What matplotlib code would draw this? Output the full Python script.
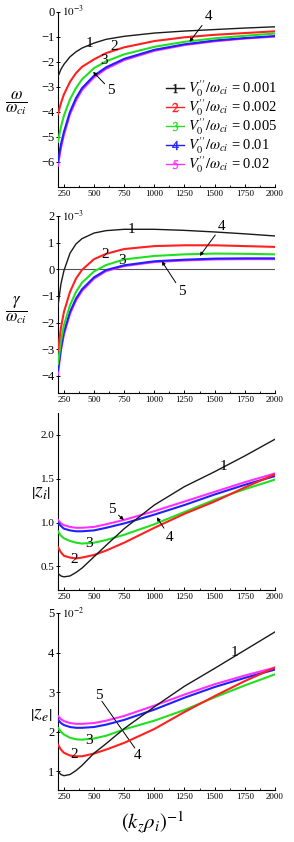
import matplotlib
matplotlib.use("Agg")
import matplotlib.pyplot as plt
from matplotlib.lines import Line2D

plt.rcParams.update({
    "font.family": "Liberation Serif",
    "mathtext.fontset": "stix",
})

x = [200, 225, 250, 300, 350, 400, 500, 600, 750, 1000, 1250, 1500, 1750, 2000]
colors = ['#1a1a1a', '#ff2020', '#20e020', '#2020ff', '#ff30ff']
ratios = ['0.001', '0.002', '0.005', '0.01', '0.02']

# panel (a): omega / omega_ci, x1e-3
omega = [
    [-2.6, -2.3, -2.1, -1.8, -1.6, -1.45, -1.25, -1.1, -0.98, -0.85, -0.77, -0.71, -0.65, -0.6],
    [-4.1, -3.65, -3.3, -2.8, -2.45, -2.2, -1.9, -1.65, -1.42, -1.17, -1.02, -0.92, -0.85, -0.78],
    [-5.2, -4.6, -4.15, -3.5, -3.05, -2.7, -2.25, -1.98, -1.7, -1.4, -1.2, -1.06, -0.96, -0.87],
    [-6.0, -5.3, -4.8, -4.0, -3.45, -3.05, -2.55, -2.22, -1.88, -1.52, -1.3, -1.15, -1.05, -0.97],
    [-6.15, -5.45, -4.92, -4.1, -3.55, -3.13, -2.62, -2.28, -1.93, -1.56, -1.33, -1.18, -1.07, -0.99],
]
# panel (b): gamma / omega_ci, x1e-3
gamma = [
    [-1.4, -0.55, -0.05, 0.6, 0.95, 1.15, 1.36, 1.45, 1.5, 1.5, 1.46, 1.4, 1.33, 1.25],
    [-3.05, -2.2, -1.6, -0.85, -0.35, -0.02, 0.38, 0.58, 0.76, 0.87, 0.9, 0.9, 0.87, 0.84],
    [-3.55, -2.7, -2.1, -1.35, -0.85, -0.5, -0.08, 0.16, 0.37, 0.5, 0.56, 0.59, 0.58, 0.56],
    [-3.8, -2.95, -2.35, -1.6, -1.1, -0.75, -0.3, -0.03, 0.15, 0.3, 0.36, 0.4, 0.41, 0.41],
    [-3.95, -3.05, -2.45, -1.68, -1.17, -0.81, -0.35, -0.07, 0.12, 0.27, 0.33, 0.37, 0.38, 0.38],
]
# panel (c): |z_i|
zi = [
    [0.42, 0.39, 0.38, 0.39, 0.43, 0.48, 0.61, 0.74, 0.93, 1.2, 1.41, 1.58, 1.76, 1.95],
    [0.72, 0.66, 0.62, 0.6, 0.59, 0.6, 0.63, 0.68, 0.77, 0.94, 1.1, 1.24, 1.4, 1.55],
    [0.9, 0.85, 0.82, 0.79, 0.77, 0.76, 0.77, 0.8, 0.86, 0.98, 1.12, 1.26, 1.38, 1.49],
    [1.0, 0.96, 0.93, 0.91, 0.9, 0.9, 0.91, 0.94, 0.99, 1.09, 1.2, 1.32, 1.43, 1.53],
    [1.03, 0.99, 0.97, 0.95, 0.94, 0.94, 0.95, 0.98, 1.03, 1.13, 1.24, 1.35, 1.46, 1.56],
]
# panel (d): |z_e|, x1e-2
ze = [
    [1.0, 0.92, 0.89, 0.92, 1.02, 1.15, 1.46, 1.7, 2.08, 2.63, 3.15, 3.6, 4.06, 4.52],
    [1.68, 1.55, 1.47, 1.4, 1.38, 1.38, 1.45, 1.55, 1.72, 2.07, 2.5, 2.9, 3.28, 3.62],
    [2.1, 2.0, 1.93, 1.85, 1.81, 1.8, 1.83, 1.9, 2.06, 2.28, 2.55, 2.87, 3.17, 3.45],
    [2.31, 2.22, 2.17, 2.12, 2.1, 2.1, 2.12, 2.18, 2.3, 2.56, 2.86, 3.13, 3.36, 3.57],
    [2.4, 2.32, 2.27, 2.22, 2.2, 2.2, 2.22, 2.28, 2.4, 2.66, 2.94, 3.2, 3.42, 3.62],
]

fig = plt.figure(figsize=(2.94, 8.42), dpi=100)
boxes = [
    [0.197, 0.778, 0.738, 0.208],
    [0.197, 0.533, 0.738, 0.2105],
    [0.197, 0.2993, 0.738, 0.2102],
    [0.197, 0.0618, 0.738, 0.2102],
]
axs = [fig.add_axes(b) for b in boxes]
datasets = [omega, gamma, zi, ze]
ylims = [(-7, 0), (-4.65, 2), (0.23, 2.25), (0.53, 5)]
yticks = [range(-6, 1), range(-4, 3), [0.5, 1.0, 1.5, 2.0], [1, 2, 3, 4, 5]]

for ax, data, yl, yt in zip(axs, datasets, ylims, yticks):
    for i, ys in enumerate(data):
        lw = 1.0 if i == 0 else 1.5
        ax.plot(x, ys, color=colors[i], lw=lw, zorder=3 + (4 - i) * 0.1 if i else 4)
    ax.set_xlim(200, 2000)
    ax.set_ylim(*yl)
    ax.set_yticks(list(yt))
    ax.set_xticks([250, 500, 750, 1000, 1250, 1500, 1750, 2000])
    ax.set_xticks([375, 625, 875, 1125, 1375, 1625, 1875], minor=True)
    for s in ['top', 'right']:
        ax.spines[s].set_visible(False)
    ax.spines['left'].set_linewidth(0.8)
    ax.spines['bottom'].set_linewidth(0.8)
    ax.tick_params(axis='x', direction='in', length=2.5, width=0.7, labelsize=6.5, pad=2)
    ax.tick_params(axis='x', which='minor', direction='in', length=1.5, width=0.6)
    ax.tick_params(axis='y', direction='inout', length=3, width=0.7, labelsize=9, pad=1)

axs[2].set_yticklabels(['0.5', '1.0', '1.5', '2.0'], fontsize=8)

# scale factors
axs[0].text(0.02, 1.0, r'$10^{-3}$', transform=axs[0].transAxes, fontsize=8, va='center', ha='left')
axs[1].text(0.02, 1.0, r'$10^{-3}$', transform=axs[1].transAxes, fontsize=8, va='center', ha='left')
axs[3].text(0.02, 1.0, r'$10^{-2}$', transform=axs[3].transAxes, fontsize=8, va='center', ha='left')

# y labels
fig.text(16 / 294, 1 - 103 / 842, r'$\dfrac{\omega}{\omega_{ci}}$', fontsize=12, ha='center', va='center')
fig.text(16 / 294, 1 - 310 / 842, r'$\dfrac{\gamma}{\omega_{ci}}$', fontsize=12, ha='center', va='center')
fig.text(41 / 294, 1 - 493 / 842, r'$\left|z_i\right|$', fontsize=14, ha='center', va='center')
fig.text(41 / 294, 1 - 714 / 842, r'$\left|z_e\right|$', fontsize=14, ha='center', va='center')
fig.text(153 / 294, 1 - 823 / 842, r'$\left(k_z\rho_i\right)^{-1}$', fontsize=15, ha='center', va='center')

# zero line in growth-rate panel
axs[1].axhline(0, color='#555555', lw=0.8, zorder=2)

arrow = dict(arrowstyle='-|>', lw=0.7, color='k', mutation_scale=5, shrinkA=0, shrinkB=0)
line = dict(arrowstyle='-', lw=0.7, color='k', shrinkA=0, shrinkB=0)
lab = dict(fontsize=11, ha='center', va='center', zorder=6)

# panel (a) curve labels
a = axs[0]
a.text(458, -1.28, '1', **lab)
a.text(667, -1.38, '2', **lab)
a.text(583, -1.95, '3', **lab)
a.annotate('4', xy=(1292, -1.2), xytext=(1450, -0.2), arrowprops=arrow, **lab)
a.annotate('5', xy=(492, -2.4), xytext=(642, -3.15), arrowprops=arrow, **lab)

handles = [Line2D([0], [0], color=colors[i], lw=1.0, marker='$%d$' % (i + 1),
                  markersize=6.5, markeredgewidth=0.3) for i in range(5)]
labels = [r'$V_0^{\prime\prime}/\omega_{ci}$ = ' + r for r in ratios]
a.legend(handles, labels, loc='upper left', bbox_to_anchor=(0.5, 0.62), frameon=False,
         fontsize=10.5, handlelength=1.2, handletextpad=0.25, labelspacing=-0.12,
         borderaxespad=0, borderpad=0)

# panel (b)
b = axs[1]
b.text(813, 1.5, '1', **lab)
b.text(590, 0.55, '2', **lab)
b.text(730, 0.33, '3', **lab)
b.annotate('4', xy=(1377, 0.5), xytext=(1560, 1.62), arrowprops=arrow, **lab)
b.annotate('5', xy=(1062, 0.3), xytext=(1228, -0.85), arrowprops=arrow, **lab)

# panel (c)
c = axs[2]
c.text(1570, 1.64, '1', **lab)
c.text(333, 0.58, '2', **lab)
c.text(460, 0.76, '3', **lab)
c.annotate('5', xy=(747, 1.03), xytext=(648, 1.15), arrowprops=arrow, **lab)
c.annotate('4', xy=(1021, 1.06), xytext=(1129, 0.83), arrowprops=arrow, **lab)

# panel (d)
d = axs[3]
d.text(1668, 4.0, '1', **lab)
d.text(333, 1.42, '2', **lab)
d.text(460, 1.79, '3', **lab)
d.text(542, 2.92, '5', **lab)
d.text(863, 1.4, '4', **lab)
d.annotate('', xy=(838, 1.59), xytext=(565, 2.77), arrowprops=line)

fig.savefig('out.png', dpi=100)
